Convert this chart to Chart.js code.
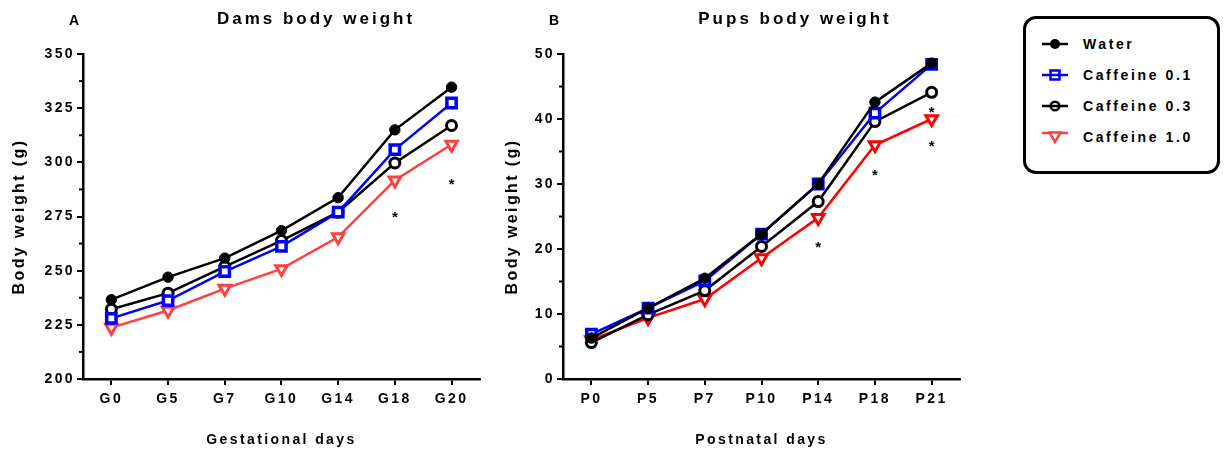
<!DOCTYPE html>
<html>
<head>
<meta charset="utf-8">
<script src="https://cdn.jsdelivr.net/npm/chart.js@4.4.1/dist/chart.umd.min.js"></script>
<style>
  body { margin: 0; background: #fff; font-family: "Liberation Sans", Arial, sans-serif; }
  #wrap { position: relative; width: 1228px; height: 458px; overflow: hidden; }
  .panel { position: absolute; top: 0; width: 490px; height: 458px; }
  .txt { position: absolute; font-weight: bold; color: #000; white-space: nowrap; line-height: 20px; }
  .title { font-size: 17px; letter-spacing: 3px; transform: translateX(-50%); }
  .letter { font-size: 14px; }
  #legend { position: absolute; left: 1023px; top: 16px; width: 197px; height: 158px; box-sizing: border-box;
            border: 3px solid #000; border-radius: 13px; }
  .row { position: absolute; left: 16px; height: 20px; display: flex; align-items: center; }
  .row span { font-size: 14px; font-weight: bold; letter-spacing: 2.6px; margin-left: 15px; }
</style>
</head>
<body>
<div id="wrap">
  <div class="panel" style="left:0"><canvas id="dams"></canvas></div>
  <div class="panel" style="left:490px"><canvas id="pups"></canvas></div>

  <div class="txt letter" style="left:69px;top:10px">A</div>
  <div class="txt title" style="left:316px;top:9px">Dams body weight</div>
  <div class="txt letter" style="left:549px;top:10px">B</div>
  <div class="txt title" style="left:795px;top:9px">Pups body weight</div>

  <div id="legend"></div>
</div>

<script>
// gestational days (dams)
const damDays = ['G0', 'G5', 'G7', 'G10', 'G14', 'G18', 'G20'];
const damWater = [236.6, 247.0, 255.8, 268.5, 283.7, 315.0, 334.7];
const damCaf01 = [228.0, 236.2, 249.6, 261.2, 277.0, 305.9, 327.4];
const damCaf03 = [232.2, 239.6, 251.9, 263.9, 277.0, 299.7, 317.0];
const damCaf10 = [223.7, 231.6, 241.7, 250.8, 265.5, 291.7, 308.2];
const damStars = [['G18', 276.3], ['G20', 291.8]];

// postnatal days (pups)
const pupDays = ['P0', 'P5', 'P7', 'P10', 'P14', 'P18', 'P21'];
const pupWater = [6.3, 10.9, 15.5, 22.3, 30.0, 42.6, 48.6];
const pupCaf01 = [6.9, 10.9, 15.1, 22.3, 30.0, 40.9, 48.4];
const pupCaf03 = [5.6, 9.9, 13.6, 20.4, 27.3, 39.6, 44.1];
const pupCaf10 = [6.0, 9.4, 12.3, 18.6, 24.8, 36.0, 40.0];
const pupStars = [['P14', 20.8], ['P18', 31.9], ['P21', 41.7], ['P21', 36.4]];

const groups = ['Water', 'Caffeine 0.1', 'Caffeine 0.3', 'Caffeine 1.0'];

const FONT = '"Liberation Sans", Arial, sans-serif';

function series(label, data, color, style, fill, radius, bw, rotation) {
  return {
    label: label,
    data: data,
    borderColor: color,
    borderWidth: 2.5,
    backgroundColor: fill,
    pointStyle: style,
    pointRadius: radius,
    pointHoverRadius: radius,
    pointBorderWidth: bw,
    pointBackgroundColor: fill,
    pointBorderColor: color,
    pointRotation: rotation || 0,
    tension: 0
  };
}

// letter spacing for all canvas text
const spacing = {
  id: 'spacing',
  beforeUpdate(chart) { chart.ctx.letterSpacing = '2.4px'; },
  beforeDraw(chart) { chart.ctx.letterSpacing = '2.4px'; }
};

// short minor ticks half way between major y ticks
const minorTicks = {
  id: 'minorTicks',
  afterDraw(chart) {
    const y = chart.scales.y;
    const ctx = chart.ctx;
    const ticks = y.ticks;
    ctx.save();
    ctx.strokeStyle = '#000';
    ctx.lineWidth = 2;
    for (let i = 0; i < ticks.length - 1; i++) {
      const py = y.getPixelForValue((ticks[i].value + ticks[i + 1].value) / 2);
      ctx.beginPath();
      ctx.moveTo(y.right - 4, py);
      ctx.lineTo(y.right, py);
      ctx.stroke();
    }
    ctx.restore();
  }
};

// significance asterisks
const stars = {
  id: 'stars',
  afterDatasetsDraw(chart, args, opts) {
    const ctx = chart.ctx;
    const x = chart.scales.x;
    const y = chart.scales.y;
    const labels = x.getLabels();
    ctx.save();
    ctx.letterSpacing = '0px';
    ctx.font = 'bold 15px ' + FONT;
    ctx.fillStyle = '#000';
    ctx.textAlign = 'center';
    ctx.textBaseline = 'alphabetic';
    opts.points.forEach(function (p) {
      const px = x.getPixelForValue(labels.indexOf(p[0]));
      const py = y.getPixelForValue(p[1]);
      ctx.fillText('*', px, py + 8.6);
    });
    ctx.restore();
  }
};

function makeChart(id, days, sets, yMin, yMax, step, yTitle, xTitle, starPts, yWidth, padRight, yTitlePad) {
  return new Chart(document.getElementById(id), {
    type: 'line',
    data: { labels: days, datasets: sets },
    plugins: [spacing, minorTicks, stars],
    options: {
      responsive: true,
      maintainAspectRatio: false,
      animation: false,
      events: [],
      layout: { padding: { top: 54, right: padRight, left: 0, bottom: 0 } },
      plugins: {
        legend: { display: false },
        tooltip: { enabled: false },
        stars: { points: starPts }
      },
      scales: {
        x: {
          offset: true,
          grid: { drawOnChartArea: false, drawTicks: true, tickLength: 6, color: '#000', lineWidth: 2 },
          border: { color: '#000', width: 2.5 },
          ticks: { color: '#000', padding: 6, maxRotation: 0, font: { family: FONT, size: 14, weight: 'bold' } },
          title: { display: true, text: xTitle, color: '#000', padding: { top: 0, bottom: 9.6 },
                   font: { family: FONT, size: 14, weight: 'bold' } },
          afterFit(scale) { scale.height = 79; }
        },
        y: {
          min: yMin,
          max: yMax,
          grid: { drawOnChartArea: false, drawTicks: true, tickLength: 6, color: '#000', lineWidth: 2 },
          border: { color: '#000', width: 2.5 },
          ticks: { stepSize: step, color: '#000', padding: 2, font: { family: FONT, size: 14, weight: 'bold' } },
          title: { display: true, text: yTitle, color: '#000', padding: { top: yTitlePad, bottom: 0 },
                   font: { family: FONT, size: 16, weight: 'bold' } },
          afterFit(scale) { scale.width = yWidth; }
        }
      }
    }
  });
}

const damRed = '#ff4040';
const pupRed = '#ff0000';

makeChart('dams', damDays, [
  series(groups[0], damWater, '#000', 'circle', '#000', 5.2, 1),
  series(groups[1], damCaf01, '#0000ff', 'rect', '#fff', 6.6, 3.5),
  series(groups[2], damCaf03, '#000', 'circle', '#fff', 5, 3),
  series(groups[3], damCaf10, damRed, 'triangle', '#fff', 6.6, 3, 180)
], 200, 350, 25, 'Body weight (g)', 'Gestational days', damStars, 83, 10, 10.4);

makeChart('pups', pupDays, [
  series(groups[0], pupWater, '#000', 'circle', '#000', 5.2, 1),
  series(groups[1], pupCaf01, '#0000ff', 'rect', '#fff', 6.6, 3.5),
  series(groups[2], pupCaf03, '#000', 'circle', '#fff', 5, 3),
  series(groups[3], pupCaf10, pupRed, 'triangle', '#fff', 6.6, 3, 180)
], 0, 50, 10, 'Body weight (g)', 'Postnatal days', pupStars, 73, 20, 13.4);

// legend with line + marker icons
const icons = [
  '<line x1="0" y1="8" x2="26" y2="8" stroke="#000" stroke-width="2.5"/><circle cx="13" cy="8" r="5" fill="#000"/>',
  '<line x1="0" y1="8" x2="26" y2="8" stroke="#00f" stroke-width="2.5"/><rect x="8.5" y="3.5" width="9" height="9" fill="none" stroke="#00f" stroke-width="2.5"/>',
  '<line x1="0" y1="8" x2="26" y2="8" stroke="#000" stroke-width="2.5"/><circle cx="13" cy="8" r="4.3" fill="none" stroke="#000" stroke-width="2.5"/>',
  '<line x1="0" y1="4" x2="26" y2="4" stroke="' + damRed + '" stroke-width="2.5"/><polygon points="7.5,3.5 18.5,3.5 13,13" fill="#fff" stroke="' + damRed + '" stroke-width="2.5"/>'
];
const legendTops = [15, 46, 77, 108];
const legend = document.getElementById('legend');
groups.forEach(function (g, i) {
  const row = document.createElement('div');
  row.className = 'row';
  row.style.top = legendTops[i] + 'px';
  row.innerHTML = '<svg width="26" height="16" viewBox="0 0 26 16">' + icons[i] + '</svg><span>' + g + '</span>';
  legend.appendChild(row);
});
</script>
</body>
</html>
